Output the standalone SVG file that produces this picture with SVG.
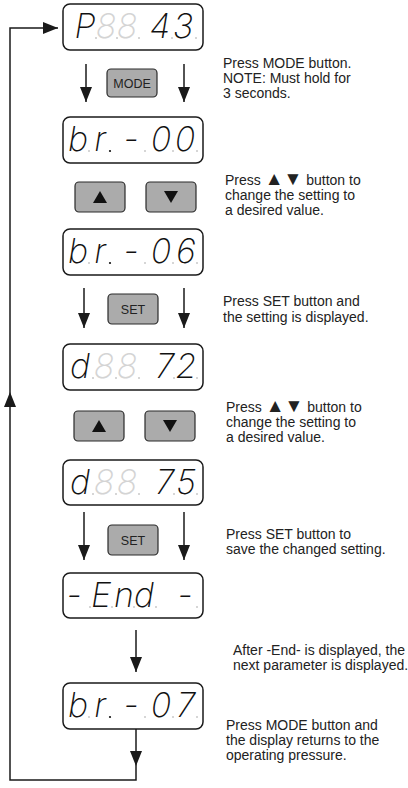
<svg xmlns="http://www.w3.org/2000/svg" width="408" height="788" viewBox="0 0 408 788">
<style>
.disp{fill:#fff;stroke:#1a1a1a;stroke-width:1.5}
.btn{fill:#ababab;stroke:#2a2a2a;stroke-width:1.2}
.seg{font-family:Inter,"DejaVu Sans",sans-serif;font-weight:200;font-style:italic;font-size:34px;fill:#111;text-anchor:middle}
.off{fill:#d4d4d4}
.dot{fill:#c8c8c8}
.bt{font-family:"Liberation Sans",Arial,sans-serif;font-size:12.5px;fill:#222;text-anchor:middle}
.note{font-family:"Liberation Sans",Arial,sans-serif;font-size:14px;fill:#222}
.sym{font-size:19px}
.ln{fill:none;stroke:#1a1a1a;stroke-width:1.5}
</style>
<defs>
<marker id="ah" viewBox="0 0 15 12" refX="15" refY="6" markerWidth="15" markerHeight="12" orient="auto" markerUnits="userSpaceOnUse">
<path d="M0,0 L15,6 L0,12 z" fill="#1a1a1a"/>
</marker>
</defs>

<g id="connectors">
<line class="ln" x1="86" y1="64" x2="86" y2="102" marker-end="url(#ah)"/>
<line class="ln" x1="184" y1="64" x2="184" y2="102" marker-end="url(#ah)"/>
<line class="ln" x1="84" y1="288" x2="84" y2="328" marker-end="url(#ah)"/>
<line class="ln" x1="184" y1="288" x2="184" y2="328" marker-end="url(#ah)"/>
<line class="ln" x1="84" y1="512" x2="84" y2="560" marker-end="url(#ah)"/>
<line class="ln" x1="184" y1="512" x2="184" y2="560" marker-end="url(#ah)"/>
<line class="ln" x1="136" y1="630" x2="136" y2="672" marker-end="url(#ah)"/>
<line class="ln" x1="136" y1="729" x2="136" y2="766" marker-end="url(#ah)"/>
<polyline class="ln" points="136,766 136,780 10,780 10,392" marker-end="url(#ah)"/>
<polyline class="ln" points="10,392 10,28 58,28" marker-end="url(#ah)"/>
</g>

<g id="display1">
<rect class="disp" x="63" y="4" width="140" height="46" rx="7"/>
<text class="seg" x="85" y="38">P</text>
<text class="seg off" x="106" y="38">8</text>
<text class="seg off" x="127" y="38">8</text>
<text class="seg" x="160" y="38">4</text>
<text class="seg" x="183" y="38">3</text>
<circle class="dot" cx="96" cy="38" r="1"/><circle class="dot" cx="117" cy="38" r="1"/><circle class="dot" cx="139" cy="38" r="1"/><circle class="dot" cx="172" cy="38" r="1"/><circle class="dot" cx="196" cy="38" r="1"/>
</g>

<g id="btn-mode1">
<rect class="btn" x="107" y="69" width="50" height="28" rx="4"/>
<text class="bt" x="132" y="87.5">MODE</text>
</g>

<g id="display2">
<rect class="disp" x="63" y="117" width="140" height="46" rx="7"/>
<text class="seg" x="78" y="151">b</text>
<text class="seg" x="100" y="151">r</text>
<text class="seg" x="131" y="151">-</text>
<text class="seg" x="161" y="151">0</text>
<text class="seg" x="185" y="151">0</text>
<circle class="dot" cx="89" cy="151" r="1"/><circle cx="110" cy="151" r="1.1" fill="#111"/><circle class="dot" cx="145" cy="151" r="1"/><circle class="dot" cx="173" cy="151" r="1"/><circle class="dot" cx="197" cy="151" r="1"/>
</g>

<g id="btn-updown1">
<rect class="btn" x="75" y="182" width="50" height="30" rx="4"/>
<path d="M100,191 L107,203 L93,203 z" fill="#111"/>
<rect class="btn" x="146" y="182" width="50" height="30" rx="4"/>
<path d="M164,191 L178,191 L171,203 z" fill="#111"/>
</g>

<g id="display3">
<rect class="disp" x="63" y="229" width="140" height="46" rx="7"/>
<text class="seg" x="78" y="263">b</text>
<text class="seg" x="100" y="263">r</text>
<text class="seg" x="131" y="263">-</text>
<text class="seg" x="161" y="263">0</text>
<text class="seg" x="186" y="263">6</text>
<circle class="dot" cx="89" cy="263" r="1"/><circle cx="110" cy="263" r="1.1" fill="#111"/><circle class="dot" cx="145" cy="263" r="1"/><circle class="dot" cx="173" cy="263" r="1"/><circle class="dot" cx="197" cy="263" r="1"/>
</g>

<g id="btn-set1">
<rect class="btn" x="108" y="294" width="50" height="30" rx="4"/>
<text class="bt" x="133" y="313.5">SET</text>
</g>

<g id="display4">
<rect class="disp" x="63" y="344" width="140" height="46" rx="7"/>
<text class="seg" x="80" y="378">d</text>
<text class="seg off" x="104" y="378">8</text>
<text class="seg off" x="127" y="378">8</text>
<text class="seg" x="165" y="378">7</text>
<text class="seg" x="186" y="378">2</text>
<circle class="dot" cx="93" cy="378" r="1"/><circle class="dot" cx="116" cy="378" r="1"/><circle class="dot" cx="139" cy="378" r="1"/><circle class="dot" cx="174" cy="378" r="1"/><circle class="dot" cx="197" cy="378" r="1"/>
</g>

<g id="btn-updown2">
<rect class="btn" x="74" y="411" width="50" height="30" rx="4"/>
<path d="M99,420 L106,432 L92,432 z" fill="#111"/>
<rect class="btn" x="145" y="411" width="50" height="30" rx="4"/>
<path d="M163,420 L177,420 L170,432 z" fill="#111"/>
</g>

<g id="display5">
<rect class="disp" x="63" y="460" width="140" height="45" rx="7"/>
<text class="seg" x="80" y="494">d</text>
<text class="seg off" x="104" y="494">8</text>
<text class="seg off" x="127" y="494">8</text>
<text class="seg" x="165" y="494">7</text>
<text class="seg" x="186" y="494">5</text>
<circle class="dot" cx="93" cy="494" r="1"/><circle class="dot" cx="116" cy="494" r="1"/><circle class="dot" cx="139" cy="494" r="1"/><circle class="dot" cx="174" cy="494" r="1"/><circle class="dot" cx="197" cy="494" r="1"/>
</g>

<g id="btn-set2">
<rect class="btn" x="108" y="525" width="50" height="30" rx="4"/>
<text class="bt" x="133" y="544.5">SET</text>
</g>

<g id="display6">
<rect class="disp" x="63" y="573" width="140" height="45" rx="7"/>
<text class="seg" x="74" y="607">-</text>
<text class="seg" x="101" y="607">E</text>
<text class="seg" x="124" y="607">n</text>
<text class="seg" x="144" y="607">d</text>
<text class="seg" x="185" y="607">-</text>
<circle class="dot" cx="90" cy="607" r="1"/><circle class="dot" cx="112" cy="607" r="1"/><circle class="dot" cx="134" cy="607" r="1"/><circle class="dot" cx="156" cy="607" r="1"/><circle class="dot" cx="197" cy="607" r="1"/>
</g>

<g id="display7">
<rect class="disp" x="63" y="683" width="140" height="46" rx="7"/>
<text class="seg" x="78" y="717">b</text>
<text class="seg" x="100" y="717">r</text>
<text class="seg" x="131" y="717">-</text>
<text class="seg" x="161" y="717">0</text>
<text class="seg" x="186" y="717">7</text>
<circle class="dot" cx="89" cy="717" r="1"/><circle cx="110" cy="717" r="1.1" fill="#111"/><circle class="dot" cx="145" cy="717" r="1"/><circle class="dot" cx="173" cy="717" r="1"/><circle class="dot" cx="197" cy="717" r="1"/>
</g>

<g id="notes">
<text class="note" x="223" y="68">Press MODE button.</text>
<text class="note" x="223" y="83">NOTE: Must hold for</text>
<text class="note" x="223" y="98">3 seconds.</text>
<text class="note" x="225" y="185">Press <tspan class="sym">▲▼</tspan> button to</text>
<text class="note" x="225" y="200">change the setting to</text>
<text class="note" x="225" y="215">a desired value.</text>
<text class="note" x="223" y="306">Press SET button and</text>
<text class="note" x="223" y="322">the setting is displayed.</text>
<text class="note" x="226" y="412">Press <tspan class="sym">▲▼</tspan> button to</text>
<text class="note" x="226" y="427">change the setting to</text>
<text class="note" x="226" y="442">a desired value.</text>
<text class="note" x="226" y="539">Press SET button to</text>
<text class="note" x="226" y="554">save the changed setting.</text>
<text class="note" x="233" y="655">After -End- is displayed, the</text>
<text class="note" x="233" y="670">next parameter is displayed.</text>
<text class="note" x="226" y="730">Press MODE button and</text>
<text class="note" x="226" y="745">the display returns to the</text>
<text class="note" x="226" y="760">operating pressure.</text>
</g>
</svg>
